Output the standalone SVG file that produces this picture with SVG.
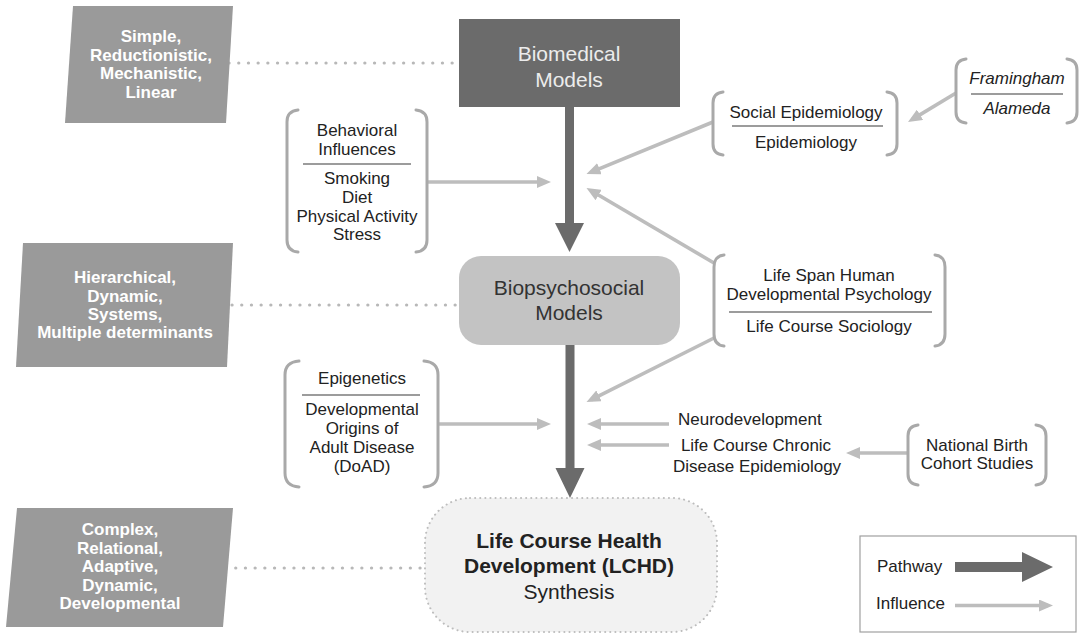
<svg xmlns="http://www.w3.org/2000/svg" width="1080" height="633" viewBox="0 0 1080 633">
<defs>
<style>
text{font-family:"Liberation Sans",Arial,Helvetica,sans-serif;font-size:17px;fill:#222;text-anchor:middle}
.pg{fill:#9a9a9a}
.pgt{fill:#fff;font-weight:bold}
.big{font-size:21px}
.b{font-weight:bold}
.it{font-style:italic}
.lt{text-anchor:start}
.br{fill:none;stroke:#a9a9a9;stroke-width:3;stroke-linecap:round}
.sep{stroke:#9c9c9c;stroke-width:2}
.dot{fill:none;stroke:#b8b8b8;stroke-width:3.2;stroke-linecap:round;stroke-dasharray:0.1 9.6}
.inf{fill:none;stroke:#bdbdbd;stroke-width:3.6;marker-end:url(#ah)}
.path{fill:#6b6b6b}
</style>
<marker id="ah" viewBox="0 0 14 12" refX="9" refY="6" markerWidth="14" markerHeight="12" markerUnits="userSpaceOnUse" orient="auto">
<path d="M0,0 L14,6 L0,12 z" fill="#bdbdbd"/>
</marker>
</defs>
<rect width="1080" height="633" fill="#fff"/>

<g id="connectors">
<line class="dot" x1="229" y1="63" x2="456" y2="63"/>
<line class="dot" x1="232" y1="305" x2="457" y2="305"/>
<line class="dot" x1="226" y1="568" x2="422" y2="568"/>
<polygon class="path" points="565,107 574,107 574,223 584,223 569.5,252 555,223 565,223"/>
<polygon class="path" points="565.5,345 574.5,345 574.5,468 584.5,468 570,498 555.5,468 565.5,468"/>
<line class="inf" x1="428" y1="182" x2="546" y2="182"/>
<line class="inf" x1="713" y1="122" x2="591.1" y2="172.1"/>
<line class="inf" x1="714" y1="263" x2="590.8" y2="190.5"/>
<line class="inf" x1="714" y1="338" x2="591" y2="399.8"/>
<line class="inf" x1="956" y1="93" x2="912.3" y2="119.4"/>
<line class="inf" x1="438" y1="424" x2="546" y2="424"/>
<line class="inf" x1="669" y1="424" x2="592" y2="424"/>
<line class="inf" x1="669" y1="445" x2="592" y2="445"/>
<line class="inf" x1="908" y1="453" x2="851" y2="453"/>
</g>

<g id="simple">
<polygon class="pg" points="73,6 233,6 226,123 65,123"/>
<text class="pgt" x="151" y="42">Simple,</text>
<text class="pgt" x="151" y="61">Reductionistic,</text>
<text class="pgt" x="151" y="79">Mechanistic,</text>
<text class="pgt" x="151" y="98">Linear</text>
</g>

<g id="hierarchical">
<polygon class="pg" points="23,243 233,243 227,367 16,367"/>
<text class="pgt" x="125" y="283">Hierarchical,</text>
<text class="pgt" x="125" y="302">Dynamic,</text>
<text class="pgt" x="125" y="320">Systems,</text>
<text class="pgt" x="125" y="338">Multiple determinants</text>
</g>

<g id="complex">
<polygon class="pg" points="17,508 233,508 223,627 6,627"/>
<text class="pgt" x="120" y="535">Complex,</text>
<text class="pgt" x="120" y="553.5">Relational,</text>
<text class="pgt" x="120" y="572">Adaptive,</text>
<text class="pgt" x="120" y="590.5">Dynamic,</text>
<text class="pgt" x="120" y="609">Developmental</text>
</g>

<g id="biomedical">
<rect x="459" y="19" width="221" height="88" fill="#6b6b6b"/>
<text class="big" x="569" y="60.5" style="fill:#ececec">Biomedical</text>
<text class="big" x="569" y="86.5" style="fill:#ececec">Models</text>
</g>

<g id="biopsychosocial">
<rect x="459" y="256" width="221" height="89" rx="22" fill="#c3c3c3"/>
<text class="big" x="569" y="294.5" style="fill:#333">Biopsychosocial</text>
<text class="big" x="569" y="319.5" style="fill:#333">Models</text>
</g>

<g id="lchd">
<rect x="425" y="498" width="292" height="134" rx="45" fill="#f2f2f2" stroke="#bdbdbd" stroke-width="2" stroke-linecap="round" stroke-dasharray="0.1 5"/>
<text class="big b" x="569" y="547.5">Life Course Health</text>
<text class="big b" x="569" y="572.5">Development (LCHD)</text>
<text class="big" x="569" y="598.5">Synthesis</text>
</g>

<g id="behavioral">
<path class="br" d="M298,110 Q287,111 287,122 L287,240 Q287,251 298,252"/>
<path class="br" d="M416,110 Q427,111 427,122 L427,240 Q427,251 416,252"/>
<text x="357" y="136">Behavioral</text>
<text x="357" y="155">Influences</text>
<line class="sep" x1="303" y1="164" x2="411" y2="164"/>
<text x="357" y="184">Smoking</text>
<text x="357" y="203">Diet</text>
<text x="357" y="222">Physical Activity</text>
<text x="357" y="240">Stress</text>
</g>

<g id="social">
<path class="br" d="M723,92 Q713,93 713,103 L713,144 Q713,154 723,155"/>
<path class="br" d="M887,92 Q897,93 897,103 L897,144 Q897,154 887,155"/>
<text x="806" y="118">Social Epidemiology</text>
<line class="sep" x1="732" y1="126" x2="883" y2="126"/>
<text x="806" y="148">Epidemiology</text>
</g>

<g id="framingham">
<path class="br" d="M966,59 Q956,60 956,70 L956,112 Q956,122 966,123"/>
<path class="br" d="M1067,59 Q1077,60 1077,70 L1077,112 Q1077,122 1067,123"/>
<text class="it" x="1017" y="84">Framingham</text>
<line class="sep" x1="971" y1="94" x2="1063" y2="94"/>
<text class="it" x="1017" y="114">Alameda</text>
</g>

<g id="lifespan">
<path class="br" d="M724,255 Q714,256 714,267 L714,334 Q714,345 724,346"/>
<path class="br" d="M935,255 Q945,256 945,267 L945,334 Q945,345 935,346"/>
<text x="829" y="281">Life Span Human</text>
<text x="829" y="300">Developmental Psychology</text>
<line class="sep" x1="729" y1="312" x2="932" y2="312"/>
<text x="829" y="332">Life Course Sociology</text>
</g>

<g id="epigenetics">
<path class="br" d="M299,361 Q285,362 285,375 L285,473 Q285,486 299,487"/>
<path class="br" d="M424,361 Q438,362 438,375 L438,473 Q438,486 424,487"/>
<text x="362" y="384">Epigenetics</text>
<line class="sep" x1="302" y1="395" x2="420" y2="395"/>
<text x="362" y="415">Developmental</text>
<text x="362" y="434">Origins of</text>
<text x="362" y="453">Adult Disease</text>
<text x="362" y="472">(DoAD)</text>
</g>

<g id="neurodevelopment">
<text class="lt" x="678" y="425">Neurodevelopment</text>
</g>

<g id="chronic">
<text x="756" y="451">Life Course Chronic</text>
<text x="757" y="472">Disease Epidemiology</text>
</g>

<g id="national">
<path class="br" d="M918,425 Q908,426 908,436 L908,474 Q908,484 918,485"/>
<path class="br" d="M1036,425 Q1046,426 1046,436 L1046,474 Q1046,484 1036,485"/>
<text x="977" y="451">National Birth</text>
<text x="977" y="469">Cohort Studies</text>
</g>

<g id="legend">
<rect x="860" y="536" width="216" height="96" fill="#fff" stroke="#a0a0a0" stroke-width="1.2"/>
<text class="lt" x="877" y="572">Pathway</text>
<polygon class="path" points="955,562 1022,562 1022,552 1053,567 1022,582 1022,572 955,572"/>
<text class="lt" x="876" y="609">Influence</text>
<line class="inf" x1="955" y1="605.5" x2="1048" y2="605.5"/>
</g>
</svg>
